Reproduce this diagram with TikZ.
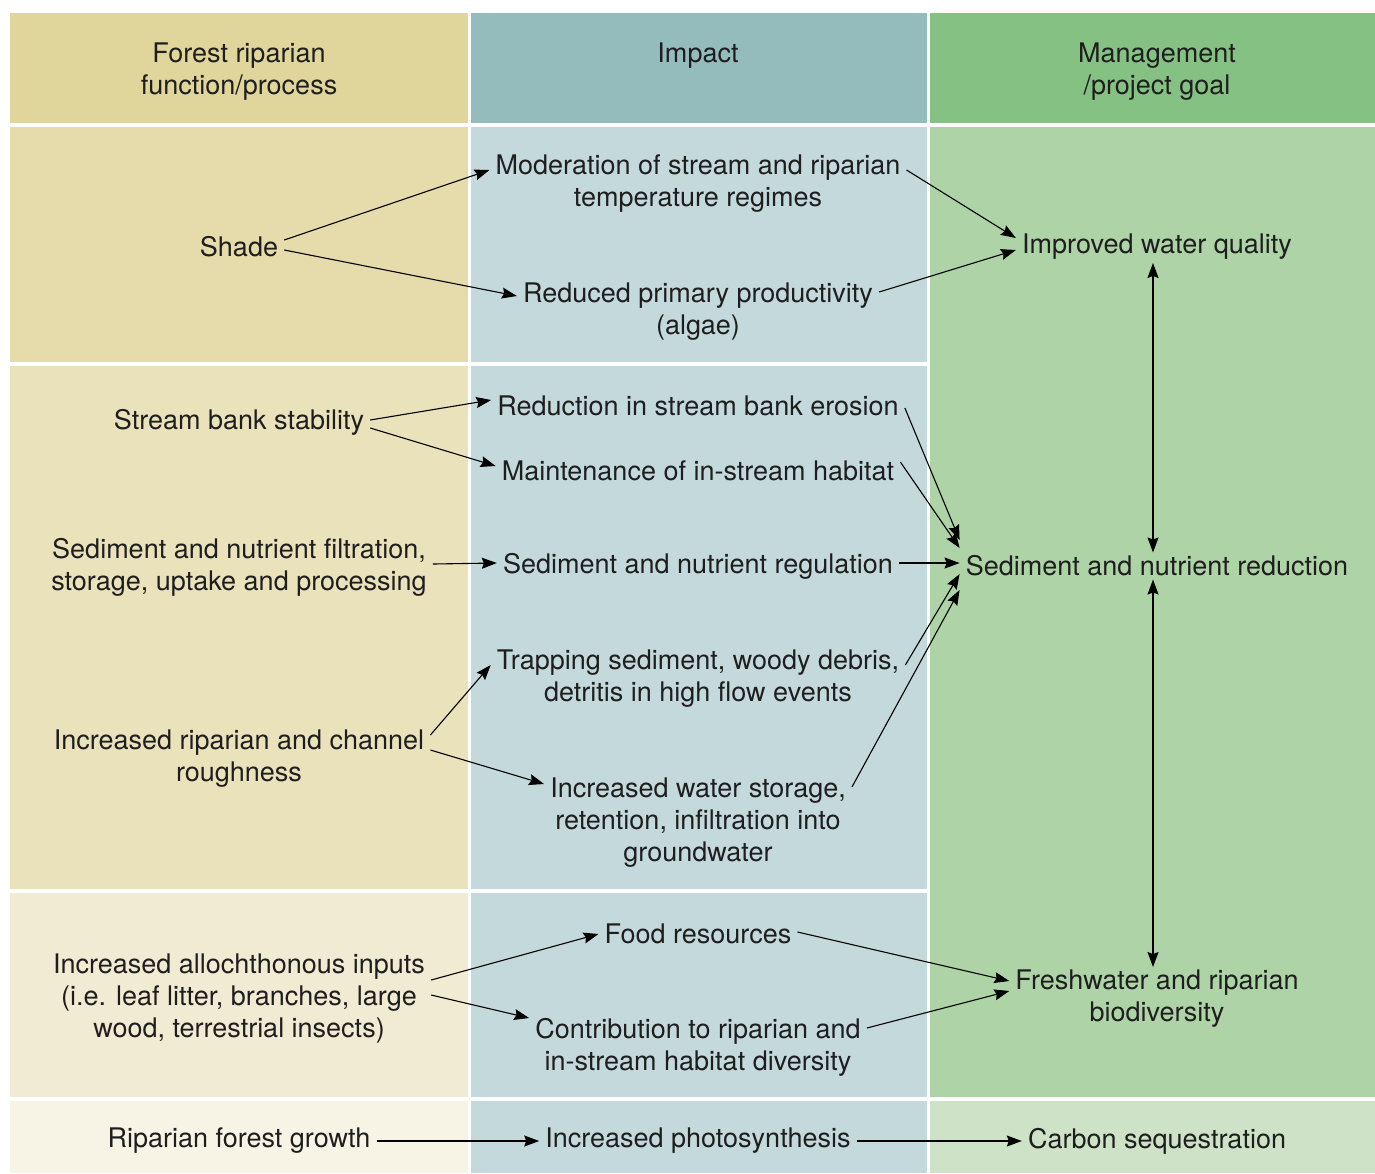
\documentclass[tikz,border=0pt]{standalone}
\usepackage{fontspec}
\setmainfont{TeX Gyre Heros}
\usetikzlibrary{arrows.meta,calc}
\newcommand\diafont{\fontsize{27}{32}\selectfont}
\definecolor{hA}{HTML}{E0D59B}
\definecolor{hB}{HTML}{95BCBC}
\definecolor{hC}{HTML}{84C182}
\definecolor{aA}{HTML}{E6DCAB}
\definecolor{aB}{HTML}{EAE2BB}
\definecolor{aC}{HTML}{F1EBD3}
\definecolor{aD}{HTML}{F7F3E5}
\definecolor{bB}{HTML}{C4D9DB}
\definecolor{cB}{HTML}{ADD3A6}
\definecolor{cD}{HTML}{CDE2C6}
\definecolor{txt}{HTML}{1E1E1E}
\tikzset{
  lbl/.style={align=center, font=\diafont, text=txt, inner xsep=6pt, inner ysep=3pt},
  arr/.style={-{Stealth[length=15pt,width=11pt,inset=2pt]}, line width=1.1pt, black},
  darr/.style={{Stealth[length=15pt,width=11pt,inset=2pt]}-{Stealth[length=15pt,width=11pt,inset=2pt]}, line width=1.1pt, black}
}
\begin{document}
\begin{tikzpicture}[x=1pt,y=1pt]
\useasboundingbox (0,0) rectangle (1375,-1173);
% cells
\fill[hA] (10,-13) rectangle (468,-123);
\fill[hB] (471,-13) rectangle (927,-123);
\fill[hC] (930,-13) rectangle (1375,-123);
\fill[aA] (10,-127) rectangle (468,-362);
\fill[aB] (10,-366) rectangle (468,-889);
\fill[aC] (10,-893) rectangle (468,-1097);
\fill[aD] (10,-1101) rectangle (468,-1173);
\fill[bB] (471,-127) rectangle (927,-362);
\fill[bB] (471,-366) rectangle (927,-889);
\fill[bB] (471,-893) rectangle (927,-1097);
\fill[bB] (471,-1101) rectangle (927,-1173);
\fill[cB] (930,-127) rectangle (1375,-1097);
\fill[cD] (930,-1101) rectangle (1375,-1173);
% headers
\node[lbl] (h1) at (239,-72) {Forest riparian\\function/process};
\node[lbl] (h2) at (698,-56) {Impact};
\node[lbl] (h3) at (1157,-72) {Management\\/project goal};
% column 1
\node[lbl] (shade) at (239,-247) {Shade};
\node[lbl] (sbs) at (239,-422) {Stream bank stability};
\node[lbl] (filt) at (239,-567) {Sediment and nutrient filtration,\\storage, uptake and processing};
\node[lbl] (rough) at (239,-759) {Increased riparian and channel\\roughness};
\node[lbl] (allo) at (239,-999) {Increased allochthonous inputs\\(i.e. leaf litter, branches, large\\wood, terrestrial insects)};
\node[lbl] (rfg) at (239,-1141) {Riparian forest growth};
% column 2
\node[lbl] (mod) at (698,-184) {Moderation of stream and riparian\\temperature regimes};
\node[lbl] (red) at (698,-312) {Reduced primary productivity\\(algae)};
\node[lbl] (ero) at (698,-406) {Reduction in stream bank erosion};
\node[lbl] (main) at (698,-471) {Maintenance of in-stream habitat};
\node[lbl] (reg) at (698,-566) {Sediment and nutrient regulation};
\node[lbl] (trap) at (698,-679) {Trapping sediment, woody debris,\\detritis in high flow events};
\node[lbl] (ws) at (698,-823) {Increased water storage,\\retention, infiltration into\\groundwater};
\node[lbl] (food) at (698,-934) {Food resources};
\node[lbl] (contrib) at (698,-1047) {Contribution to riparian and\\in-stream habitat diversity};
\node[lbl] (photo) at (698,-1141) {Increased photosynthesis};
% column 3
\node[lbl] (iwq) at (1157,-247) {Improved water quality};
\node[lbl] (snr) at (1157,-566) {Sediment and nutrient reduction};
\node[lbl] (frb) at (1157,-999) {Freshwater and riparian\\biodiversity};
\node[lbl] (carb) at (1157,-1141) {Carbon sequestration};
% connectors
\draw[arr] ([yshift=7pt]shade.east) -- ([yshift=14pt]mod.west);
\draw[arr] ([yshift=-3pt]shade.east) -- ([yshift=16pt]red.west);
\draw[arr] ([yshift=14pt]mod.east) -- ([yshift=9pt]iwq.west);
\draw[arr] ([yshift=20pt]red.east) -- ([yshift=-3pt]iwq.west);
\draw[darr] ([xshift=-4pt]iwq.south) -- ([xshift=-4pt]snr.north);
\draw[darr] ([xshift=-4pt]snr.south) -- ([xshift=-4pt]frb.north);
\draw[arr] ([yshift=2pt]sbs.east) -- ([yshift=6pt]ero.west);
\draw[arr] ([yshift=-6pt]sbs.east) -- ([yshift=5pt]main.west);
\draw[arr] ([yshift=-2pt]ero.east) -- ([yshift=26pt]snr.west);
\draw[arr] ([yshift=9pt]main.east) -- ([yshift=18pt]snr.west);
\draw[arr] ([yshift=3pt]filt.east) -- ([yshift=3pt]reg.west);
\draw[arr] ([yshift=3pt]reg.east) -- ([yshift=3pt]snr.west);
\draw[arr] ([yshift=14pt]trap.east) -- ([yshift=-8pt]snr.west);
\draw[arr] ([yshift=36pt]ws.east) -- ([yshift=-24pt]snr.west);
\draw[arr] ([yshift=24pt]rough.east) -- ([yshift=14pt]trap.west);
\draw[arr] ([yshift=9pt]rough.east) -- ([yshift=39pt]ws.west);
\draw[arr] ([yshift=19pt]allo.east) -- ([yshift=0pt]food.west);
\draw[arr] ([yshift=4pt]allo.east) -- ([yshift=29pt]contrib.west);
\draw[arr] ([yshift=2pt]food.east) -- ([yshift=18pt]frb.west);
\draw[arr] ([yshift=19pt]contrib.east) -- ([yshift=8pt]frb.west);
\draw[arr] (rfg.east) -- (photo.west);
\draw[arr] (photo.east) -- (carb.west);
\end{tikzpicture}
\end{document}
